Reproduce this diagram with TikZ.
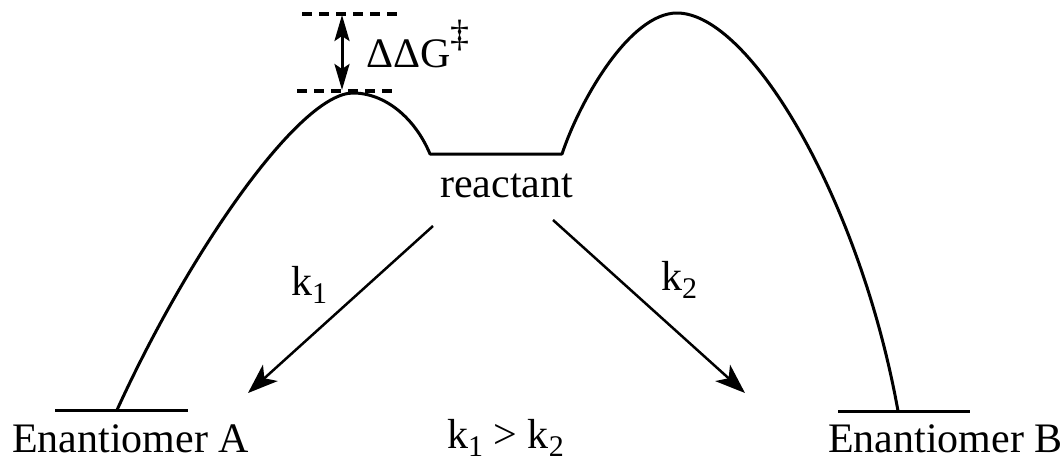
\documentclass[tikz,border=0pt]{standalone}
\usepackage{fontspec}
\setmainfont{Liberation Serif}
\usetikzlibrary{arrows.meta}
\newcommand{\mysub}[1]{\raisebox{-0.2em}{\fontsize{30}{30}\selectfont #1}}
\tikzset{
  lbl/.style={inner sep=0pt, anchor=base west, font=\fontsize{42}{50}\selectfont},
  curve/.style={line width=3pt, line join=round},
  level/.style={line width=3pt},
  dashlevel/.style={line width=3.5pt, dash pattern=on 10pt off 7pt},
  rxn/.style={line width=2.5pt, -{Stealth[length=30pt,width=22pt,inset=8pt]}},
  dbl/.style={line width=3pt, {Stealth[length=26pt,width=15pt,inset=5pt]}-{Stealth[length=26pt,width=15pt,inset=5pt]}}
}
\begin{document}
\begin{tikzpicture}[x=1pt,y=-1pt]
\path[use as bounding box] (0,0) rectangle (1064,461);
% levels
\draw[level] (55,410) -- (188,410);
\draw[level] (838,411) -- (970,411);
% energy profile
\coordinate (la) at (117,410);
\coordinate (lp) at (353,93);
\coordinate (r1) at (430,154);
\coordinate (r2) at (562,154);
\coordinate (rp) at (677,13);
\coordinate (rb) at (898,411);
\draw[curve] (la) .. controls (190,250) and (300,93) .. (lp)
  .. controls (385,93) and (415,118) .. (r1) -- (r2)
  .. controls (580,100) and (630,13) .. (rp)
  .. controls (750,13) and (860,200) .. (rb);
% ddG
\draw[dashlevel] (302,14) -- (397,14);
\draw[dashlevel] (297,91) -- (392,91);
\coordinate (dtop) at (342,15);
\coordinate (dbot) at (342,90);
\draw[dbl] (dtop) -- (dbot);
\node[lbl] (ddg) at (366,67) {ΔΔG\raisebox{0.5em}{\fontsize{38}{38}\selectfont ‡}};
% labels
\node[lbl] (react) at (440,197) {reactant};
\node[lbl] (ea) at (12,452) {Enantiomer A};
\node[lbl] (eb) at (828,452) {Enantiomer B};
\node[lbl] (cmp) at (447,448) {k\mysub{1} > k\mysub{2}};
\node[lbl] (k1) at (291,295) {k\mysub{1}};
\node[lbl] (k2) at (661,290) {k\mysub{2}};
% arrows
\coordinate (a1s) at (433,226);
\coordinate (a1e) at (248,393);
\coordinate (a2s) at (553,220);
\coordinate (a2e) at (745,393);
\draw[rxn] (a1s) -- (a1e);
\draw[rxn] (a2s) -- (a2e);
\end{tikzpicture}
\end{document}
